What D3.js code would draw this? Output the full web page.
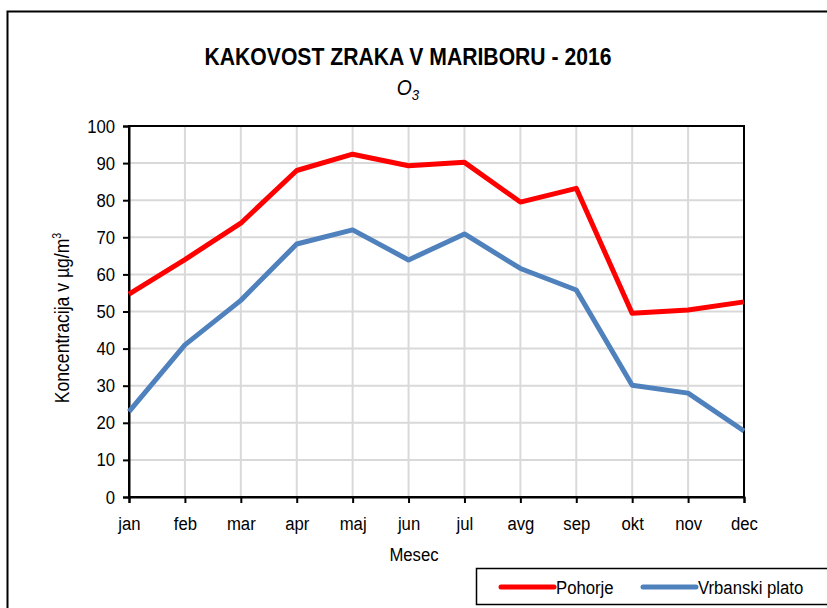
<!DOCTYPE html>
<html>
<head>
<meta charset="utf-8">
<script src="https://cdn.jsdelivr.net/npm/d3@7"></script>
<style>
  body { margin: 0; background: #fff; }
  svg text { font-family: "Liberation Sans", Arial, sans-serif; fill: #000; }
</style>
</head>
<body>
<div id="chart"></div>
<script>
/* -----------------    DATA     ------------------ */

const months = ['jan', 'feb', 'mar', 'apr', 'maj', 'jun', 'jul', 'avg', 'sep', 'okt', 'nov', 'dec'];
const pohorje = [54.7, 64, 73.8, 88, 92.4, 89.3, 90.2, 79.5, 83.2, 49.5, 50.4, 52.6];
const vrbanskiPlato = [23, 41, 53, 68.2, 72, 63.9, 70.9, 61.6, 55.8, 30.1, 28, 17.8];
const yTicks = [0, 10, 20, 30, 40, 50, 60, 70, 80, 90, 100];
const seriesNames = ['Pohorje', 'Vrbanski plato'];

/* -----------------    SETTINGS     ------------------ */

const W = 827, H = 608;
const plot = {left: 129, right: 744, top: 126, bottom: 497};
const colors = ['#FF0000', '#4F81BD'];
const narrow = 0.88;   // squeeze to mimic the narrow Arial look
const fs = 19;

const svg = d3.select('#chart')
    .append('svg')
    .attr('width', W)
    .attr('height', H);

// outer chart frame (runs off right/bottom edge)
svg.append('rect')
    .attr('x', 7.5).attr('y', 11.5)
    .attr('width', 900).attr('height', 700)
    .attr('fill', 'none')
    .attr('stroke', '#000')
    .attr('stroke-width', 2);

const x = d3.scalePoint()
    .domain(months)
    .range([plot.left, plot.right]);

const y = d3.scaleLinear()
    .domain([0, 100])
    .range([plot.bottom, plot.top]);

// grid
svg.append('g')
    .selectAll('line')
    .data(yTicks)
    .enter()
    .append('line')
    .attr('x1', plot.left).attr('x2', plot.right)
    .attr('y1', d => y(d)).attr('y2', d => y(d))
    .attr('stroke', '#d9d9d9')
    .attr('stroke-width', 2);

svg.append('g')
    .selectAll('line')
    .data(months)
    .enter()
    .append('line')
    .attr('x1', d => x(d)).attr('x2', d => x(d))
    .attr('y1', plot.top).attr('y2', plot.bottom)
    .attr('stroke', '#d9d9d9')
    .attr('stroke-width', 2);

// plot border
svg.append('rect')
    .attr('x', plot.left).attr('y', plot.top)
    .attr('width', plot.right - plot.left)
    .attr('height', plot.bottom - plot.top)
    .attr('fill', 'none')
    .attr('stroke', '#000')
    .attr('stroke-width', 2);

// axes
const yAxis = svg.append('g')
    .attr('transform', `translate(${plot.left},0)`)
    .call(d3.axisLeft(y).tickValues(yTicks).tickSize(6).tickPadding(8));

const xAxis = svg.append('g')
    .attr('transform', `translate(0,${plot.bottom})`)
    .call(d3.axisBottom(x).tickSize(6).tickPadding(14));

[yAxis, xAxis].forEach(ax => {
    ax.select('.domain').attr('stroke', '#000').attr('stroke-width', 2);
    ax.selectAll('.tick line').attr('stroke', '#000').attr('stroke-width', 2);
    ax.selectAll('.tick text')
        .attr('font-family', '"Liberation Sans", Arial, sans-serif')
        .attr('font-size', fs)
        .attr('fill', '#000')
        .attr('transform', `scale(${narrow},1)`);
});
yAxis.selectAll('.tick text').attr('x', -14 / narrow);

// lines
const line = d3.line()
    .x((d, i) => x(months[i]))
    .y(d => y(d));

[pohorje, vrbanskiPlato].forEach((series, i) => {
    svg.append('path')
        .datum(series)
        .attr('d', line)
        .attr('fill', 'none')
        .attr('stroke', colors[i])
        .attr('stroke-width', 5)
        .attr('stroke-linejoin', 'round');
});

// titles
svg.append('text')
    .attr('x', 408).attr('y', 65)
    .attr('text-anchor', 'middle')
    .attr('font-size', 24)
    .attr('font-weight', 'bold')
    .attr('textLength', 407)
    .attr('lengthAdjust', 'spacingAndGlyphs')
    .text('KAKOVOST ZRAKA V MARIBORU - 2016');

const sub = svg.append('text')
    .attr('transform', `translate(408,95) scale(${narrow},1)`)
    .attr('text-anchor', 'middle')
    .attr('font-size', 22)
    .attr('font-style', 'italic');
sub.append('tspan').text('O');
sub.append('tspan').attr('dy', 5).attr('font-size', 15).text('3');

svg.append('text')
    .attr('transform', `translate(414,561) scale(${narrow},1)`)
    .attr('text-anchor', 'middle')
    .attr('font-size', fs)
    .text('Mesec');

const yl = svg.append('text')
    .attr('transform', `translate(69,318) rotate(-90) scale(${narrow},1)`)
    .attr('text-anchor', 'middle')
    .attr('font-size', 20);
yl.append('tspan').text('Koncentracija v  µg/m');
yl.append('tspan').attr('dy', -8).attr('font-size', 12).text('3');

// legend
svg.append('rect')
    .attr('x', 476.5).attr('y', 568.5)
    .attr('width', 400).attr('height', 36)
    .attr('fill', '#fff')
    .attr('stroke', '#000')
    .attr('stroke-width', 1.5);

const legendX = [501, 643];
seriesNames.forEach((name, i) => {
    const lg = svg.append('g').attr('transform', `translate(${legendX[i]},587)`);
    lg.append('line')
        .attr('x1', 0).attr('x2', 53)
        .attr('stroke', colors[i])
        .attr('stroke-width', 5)
        .attr('stroke-linecap', 'round');
    lg.append('text')
        .attr('transform', `translate(55,7) scale(${narrow},1)`)
        .attr('font-size', fs)
        .text(name);
});
</script>
</body>
</html>
